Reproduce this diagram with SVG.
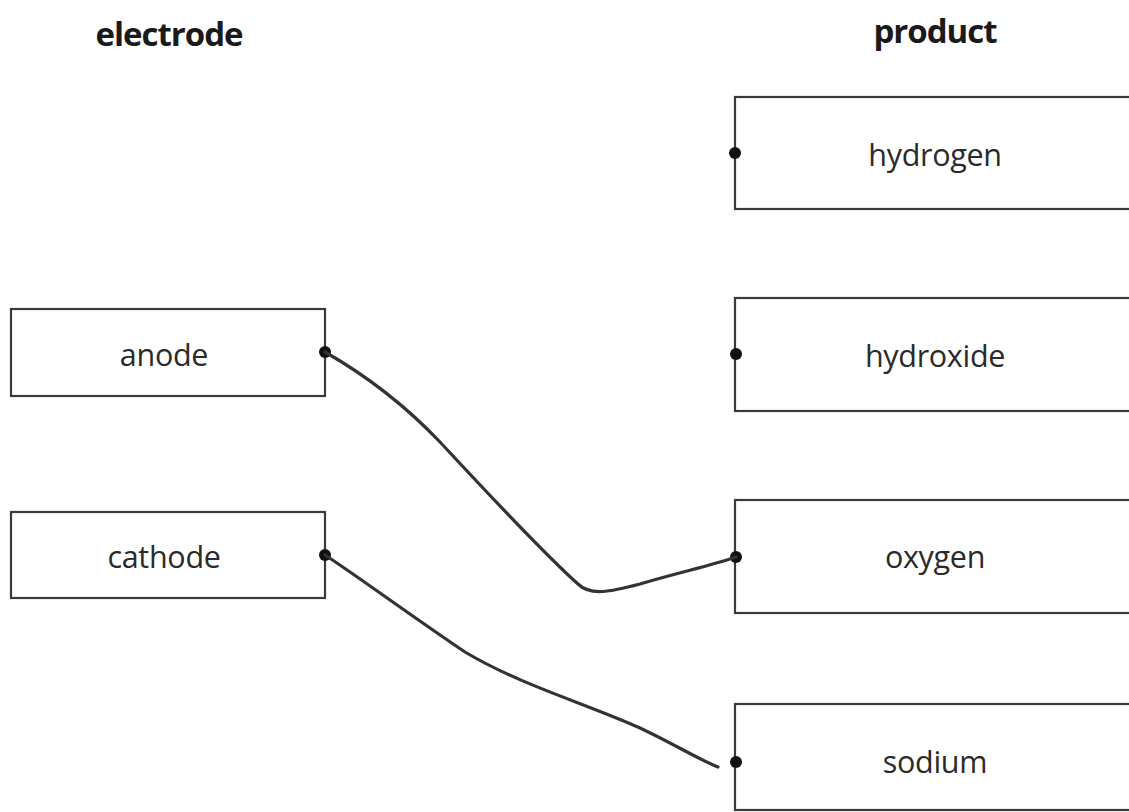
<svg xmlns="http://www.w3.org/2000/svg" width="1129" height="812" viewBox="0 0 1129 812">
<style>
.box{fill:#fff;stroke:#3a3a3a;stroke-width:2.2}
.lbl{font-family:"Open Sans","Noto Sans",sans-serif;font-size:30.5px;fill:#2a2a2a;text-anchor:middle;letter-spacing:-0.3px}
.hd{font-family:"Open Sans","Noto Sans",sans-serif;font-size:33px;font-weight:bold;fill:#1a1a1a;text-anchor:middle;letter-spacing:-1px}
.dot{fill:#111}
.wire{fill:none;stroke:#333;stroke-width:3.2;stroke-linecap:round;stroke-linejoin:round}
</style>
<rect width="1129" height="812" fill="#fff"/>
<text class="hd" x="169" y="46">electrode</text>
<text class="hd" x="935" y="43">product</text>
<g id="anode"><rect class="box" x="11" y="309" width="314" height="87"/><text class="lbl" x="164" y="366">anode</text><circle class="dot" cx="325" cy="352" r="6"/></g>
<g id="cathode"><rect class="box" x="11" y="512" width="314" height="86"/><text class="lbl" x="164" y="568">cathode</text><circle class="dot" cx="325" cy="555" r="6"/></g>
<g id="hydrogen"><rect class="box" x="735" y="97" width="400" height="112"/><text class="lbl" x="935" y="166">hydrogen</text><circle class="dot" cx="735" cy="153" r="6"/></g>
<g id="hydroxide"><rect class="box" x="735" y="298" width="400" height="113"/><text class="lbl" x="935" y="367">hydroxide</text><circle class="dot" cx="736" cy="354" r="6"/></g>
<g id="oxygen"><rect class="box" x="735" y="500" width="400" height="113"/><text class="lbl" x="935" y="568">oxygen</text><circle class="dot" cx="736" cy="557" r="6"/></g>
<g id="sodium"><rect class="box" x="735" y="704" width="400" height="106"/><text class="lbl" x="935" y="773">sodium</text><circle class="dot" cx="736" cy="762" r="6"/></g>
<g id="connectors">
<path class="wire" d="M325 352 C360 372 400 400 440 442 C480 485 540 550 578 584 C590 596 610 592 640 584 C680 572 710 566 736 557"/>
<path class="wire" d="M325 555 C360 578 410 615 465 652 C520 685 590 705 640 728 C670 742 700 760 718 767"/>
</g>
</svg>
